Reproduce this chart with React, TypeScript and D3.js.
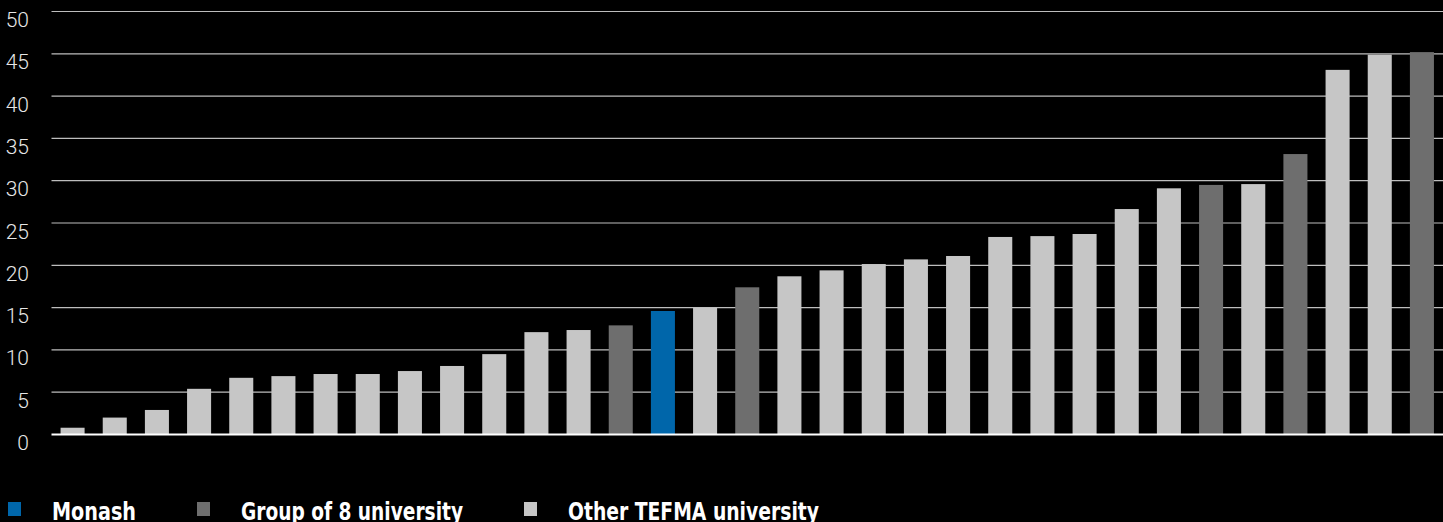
import { useEffect } from "react";
import * as d3 from "d3";

/**
 * TEFMA benchmark — sorted bars, Monash highlighted against Group of 8 and other TEFMA universities.
 */

const WIDTH = 1443;
const HEIGHT = 522;
const MARGIN = { top: 11.5, right: 0, bottom: 87.5, left: 51.5 };

type Group = "monash" | "go8" | "other";

// One entry per university, in chart order (names are not shown on the chart)
const UNIVERSITIES = d3.range(1, 34).map((i) => `U${i}`);
const VALUES = [
  0.8, 2.0, 2.9, 5.4, 6.7, 6.9, 7.15, 7.15, 7.5, 8.1, 9.5,
  12.1, 12.35, 12.9, 14.6, 15.0, 17.4, 18.7, 19.4, 20.15, 20.7, 21.1,
  23.35, 23.45, 23.7, 26.65, 29.1, 29.5, 29.6, 33.15, 43.1, 44.9, 45.2,
];
const GROUPS: Group[] = [
  "other", "other", "other", "other", "other", "other", "other", "other", "other", "other", "other",
  "other", "other", "go8", "monash", "other", "go8", "other", "other", "other", "other", "other",
  "other", "other", "other", "other", "other", "go8", "other", "go8", "other", "other", "go8",
];
const Y_TICKS = [0, 5, 10, 15, 20, 25, 30, 35, 40, 45, 50];

const LEGEND: { key: Group; label: string }[] = [
  { key: "monash", label: "Monash" },
  { key: "go8", label: "Group of 8 university" },
  { key: "other", label: "Other TEFMA university" },
];

const COLORS: Record<Group, string> = {
  monash: "#0066aa",
  go8: "#6e6e6e",
  other: "#c6c6c6",
};

// Legend layout: swatch x, label x, label width (to match the condensed face)
const LEGEND_POS = [
  { sx: 8, tx: 52, tw: 84 },
  { sx: 197, tx: 241, tw: 222 },
  { sx: 524, tx: 568, tw: 251 },
];

export default function App() {
  useEffect(() => {
    document.body.style.margin = "0";
    document.body.style.background = "#000";
  }, []);

  const innerH = HEIGHT - MARGIN.top - MARGIN.bottom;
  const x = d3.scaleBand<string>()
    .domain(UNIVERSITIES)
    .range([MARGIN.left, WIDTH - MARGIN.right])
    .paddingInner(0.43)
    .paddingOuter(0.215);
  const y = d3.scaleLinear().domain([0, 50]).range([MARGIN.top + innerH, MARGIN.top]);

  const font = "'Helvetica Neue', Roboto, 'Liberation Sans', sans-serif";
  const narrow = "'Liberation Sans Narrow', 'DejaVu Sans Condensed', 'Roboto Condensed', sans-serif";

  return (
    <svg width={WIDTH} height={HEIGHT} style={{ display: "block", background: "#000" }}>
      <rect x={0} y={0} width={WIDTH} height={HEIGHT} fill="#000" />

      {/* Gridlines */}
      {Y_TICKS.filter((t) => t > 0).map((t) => (
        <line key={t}
          x1={MARGIN.left} x2={WIDTH} y1={y(t)} y2={y(t)}
          stroke="#bdbdbd" strokeWidth={1.2}
        />
      ))}

      {/* Bars */}
      {UNIVERSITIES.map((u, i) => (
        <rect key={u}
          x={x(u)} y={y(VALUES[i])}
          width={x.bandwidth()} height={y(0) - y(VALUES[i])}
          fill={COLORS[GROUPS[i]]}
        />
      ))}

      {/* Baseline */}
      <line x1={MARGIN.left} x2={WIDTH} y1={y(0)} y2={y(0)} stroke="#ffffff" strokeWidth={2} />

      {/* Y tick labels, hung just below each gridline */}
      {Y_TICKS.map((t) => (
        <text key={`yl${t}`}
          x={29} y={y(t) + 15.5}
          textAnchor="end" fontSize={21} fontWeight={300}
          fontFamily={font} fill="#e6e6e6"
        >
          {t}
        </text>
      ))}

      {/* Legend */}
      {LEGEND.map((l, i) => (
        <g key={l.key}>
          <rect x={LEGEND_POS[i].sx} y={502} width={13} height={14} fill={COLORS[l.key]} />
          <text
            x={LEGEND_POS[i].tx} y={520}
            fontSize={25} fontWeight={700} fontFamily={narrow} fill="#ffffff"
            textLength={LEGEND_POS[i].tw} lengthAdjust="spacingAndGlyphs"
          >
            {l.label}
          </text>
        </g>
      ))}
    </svg>
  );
}
